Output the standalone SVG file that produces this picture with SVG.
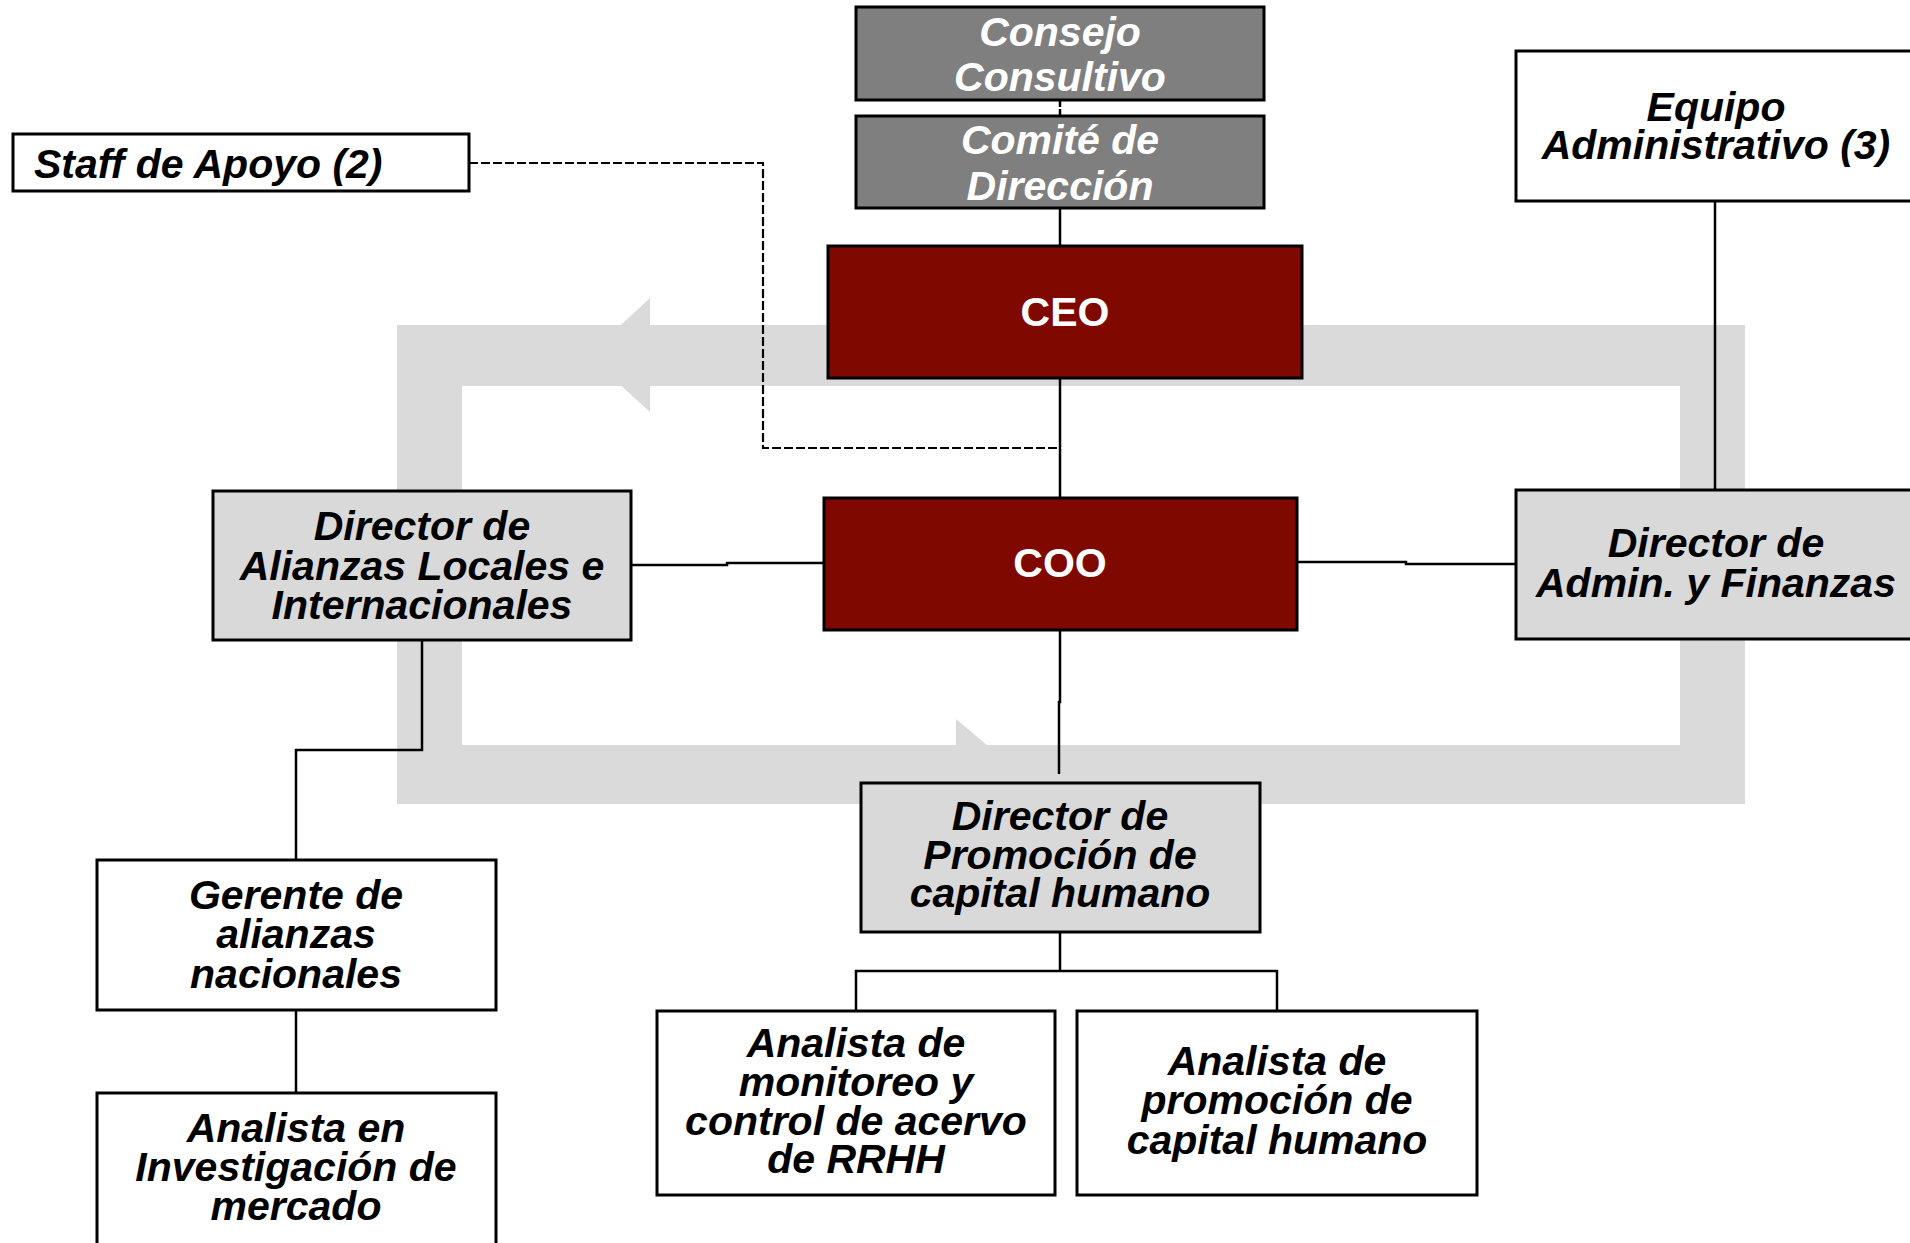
<svg xmlns="http://www.w3.org/2000/svg" width="1910" height="1243" viewBox="0 0 1910 1243">
<style>
.box{stroke:#000;stroke-width:3}
.w{fill:#fff}
.g{fill:#d9d9d9}
.dg{fill:#7f7f7f}
.r{fill:#7f0900}
.t{font-family:"Liberation Sans",Arial,sans-serif;font-weight:bold;font-style:italic;font-size:41px;fill:#000;text-anchor:middle}
.tw{fill:#fff}
.n{font-style:normal}
.ln{fill:none;stroke:#000;stroke-width:2.5}
.dash{stroke-dasharray:9 3;stroke-width:2.2}
</style>
<rect width="1910" height="1243" fill="#fff"/>
<g id="loop">
<path d="M397,325 H1745 V804 H397 Z M462,386 V745 H1680 V386 Z" fill="#dadada" fill-rule="evenodd"/>
<polygon points="650,298 650,412 588,355.5" fill="#dadada"/>
<polygon points="956,719 956,830 1022,774.5" fill="#dadada"/>
</g>
<g id="connectors">
<path class="ln" d="M1060,101 V116" stroke-dasharray="6 2"/>
<path class="ln" d="M1060,208 V246"/>
<path class="ln" d="M1060,378 V498"/>
<path class="ln dash" d="M469,163 H763 V448 H1057"/>
<path class="ln" d="M631,565 H727 V563 H824"/>
<path class="ln" d="M1297,562 H1406 V564 H1516"/>
<path class="ln" d="M1715,201 V490"/>
<path class="ln" d="M1060,630 V702 H1059 V774"/>
<path class="ln" d="M1060,932 V971 M856,1011 V971 H1277 V1011"/>
<path class="ln" d="M422,640 V750 H296 V860"/>
<path class="ln" d="M296,1010 V1093"/>
</g>
<g id="consejo">
<rect class="box dg" x="856" y="7" width="408" height="93"/>
<text class="t tw" x="1060" y="46">Consejo</text>
<text class="t tw" x="1060" y="91">Consultivo</text>
</g>
<g id="comite">
<rect class="box dg" x="856" y="116" width="408" height="92"/>
<text class="t tw" x="1060" y="154">Comité de</text>
<text class="t tw" x="1060" y="200">Dirección</text>
</g>
<g id="ceo">
<rect class="box r" x="828" y="246" width="474" height="132"/>
<text class="t tw n" x="1065" y="326">CEO</text>
</g>
<g id="coo">
<rect class="box r" x="824" y="498" width="473" height="132"/>
<text class="t tw n" x="1060" y="577">COO</text>
</g>
<g id="staff">
<rect class="box w" x="13" y="134" width="456" height="57"/>
<text class="t" x="34" y="178" style="text-anchor:start">Staff de Apoyo (2)</text>
</g>
<g id="equipo">
<rect class="box w" x="1516" y="51" width="400" height="150"/>
<text class="t" x="1716" y="121">Equipo</text>
<text class="t" x="1716" y="159">Administrativo (3)</text>
</g>
<g id="admin">
<rect class="box g" x="1516" y="490" width="400" height="149"/>
<text class="t" x="1716" y="557">Director de</text>
<text class="t" x="1716" y="597">Admin. y Finanzas</text>
</g>
<g id="alianzas">
<rect class="box g" x="213" y="491" width="418" height="149"/>
<text class="t" x="422" y="540">Director de</text>
<text class="t" x="422" y="580">Alianzas Locales e</text>
<text class="t" x="422" y="619">Internacionales</text>
</g>
<g id="promocion">
<rect class="box g" x="861" y="783" width="399" height="149"/>
<text class="t" x="1060" y="830">Director de</text>
<text class="t" x="1060" y="869">Promoción de</text>
<text class="t" x="1060" y="907">capital humano</text>
</g>
<g id="gerente">
<rect class="box w" x="97" y="860" width="399" height="150"/>
<text class="t" x="296" y="909">Gerente de</text>
<text class="t" x="296" y="948">alianzas</text>
<text class="t" x="296" y="988">nacionales</text>
</g>
<g id="investigacion">
<rect class="box w" x="97" y="1093" width="399" height="170"/>
<text class="t" x="296" y="1142">Analista en</text>
<text class="t" x="296" y="1181">Investigación de</text>
<text class="t" x="296" y="1220">mercado</text>
</g>
<g id="monitoreo">
<rect class="box w" x="657" y="1011" width="398" height="184"/>
<text class="t" x="856" y="1057">Analista de</text>
<text class="t" x="856" y="1096">monitoreo y</text>
<text class="t" x="856" y="1135">control de acervo</text>
<text class="t" x="856" y="1173">de RRHH</text>
</g>
<g id="analista-promocion">
<rect class="box w" x="1077" y="1011" width="400" height="184"/>
<text class="t" x="1277" y="1075">Analista de</text>
<text class="t" x="1277" y="1114">promoción de</text>
<text class="t" x="1277" y="1154">capital humano</text>
</g>
</svg>
